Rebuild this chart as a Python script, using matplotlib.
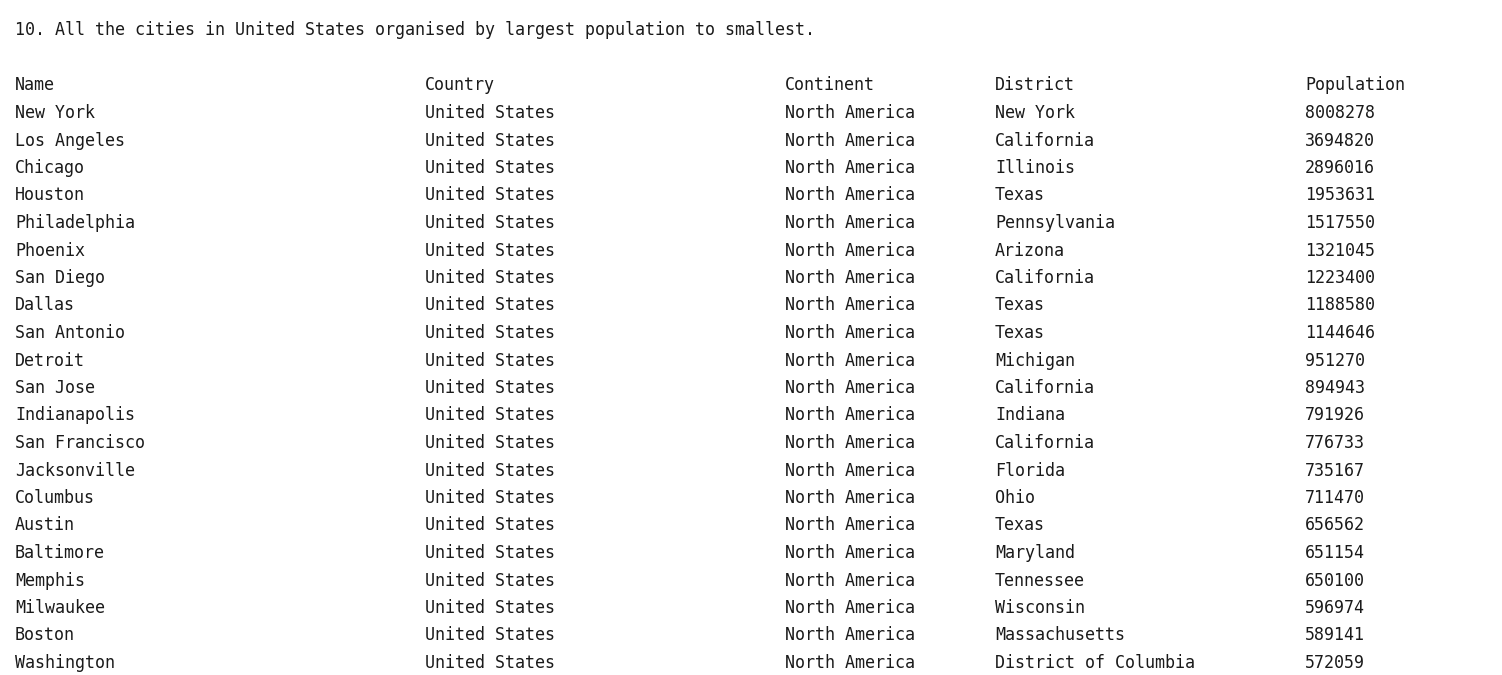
import matplotlib
matplotlib.use("Agg")
import matplotlib.pyplot as plt

title = "10. All the cities in United States organised by largest population to smallest."
headers = ["Name", "Country", "Continent", "District", "Population"]
names = ["New York","Los Angeles","Chicago","Houston","Philadelphia","Phoenix","San Diego","Dallas",
         "San Antonio","Detroit","San Jose","Indianapolis","San Francisco","Jacksonville","Columbus",
         "Austin","Baltimore","Memphis","Milwaukee","Boston","Washington"]
districts = ["New York","California","Illinois","Texas","Pennsylvania","Arizona","California","Texas",
             "Texas","Michigan","California","Indiana","California","Florida","Ohio","Texas","Maryland",
             "Tennessee","Wisconsin","Massachusetts","District of Columbia"]
populations = [8008278,3694820,2896016,1953631,1517550,1321045,1223400,1188580,1144646,951270,894943,
               791926,776733,735167,711470,656562,651154,650100,596974,589141,572059]
country = "United States"
continent = "North America"

W, H = 1502, 675
fig = plt.figure(figsize=(W/100, H/100), dpi=100)
col_x = [15, 425, 785, 995, 1305]
kw = dict(family="DejaVu Sans Mono", fontsize=11.95, color="#1a1a1a", va="baseline", ha="left")

def put(x, y, s):
    fig.text(x / W, 1 - (y + 6) / H, s, **kw)

put(15, 29, title)
for x, h in zip(col_x, headers):
    put(x, 84, h)
for i, (n, d, p) in enumerate(zip(names, districts, populations)):
    y = 112 + i * 27.5
    for x, s in zip(col_x, [n, country, continent, d, str(p)]):
        put(x, y, s)

fig.savefig("out.png", dpi=100, facecolor="white")
